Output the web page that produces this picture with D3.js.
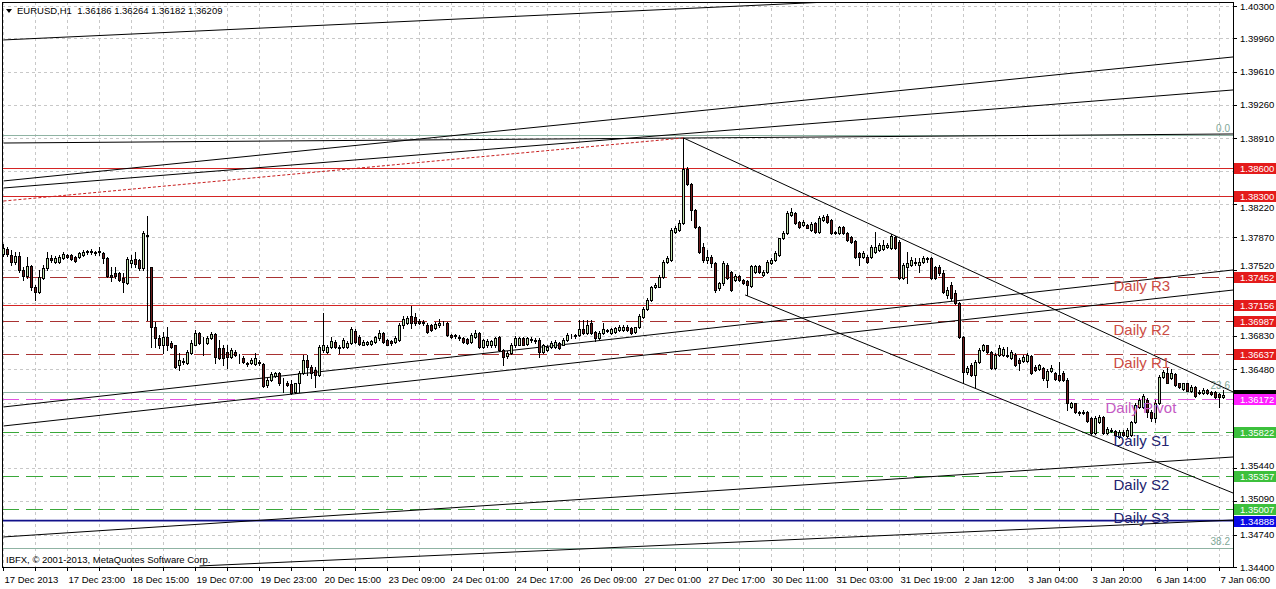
<!DOCTYPE html>
<html><head><meta charset="utf-8">
<script src="https://cdn.jsdelivr.net/npm/d3@7"></script>
<style>
html,body{margin:0;padding:0;background:#fff;}
svg{display:block;font-family:"Liberation Sans",Arial,sans-serif;}
</style></head><body>
<svg id="c" width="1276" height="589"></svg>
<script>
const title = "EURUSD,H1  1.36186 1.36264 1.36182 1.36209";
const copyright = "IBFX, \u00a9 2001-2013, MetaQuotes Software Corp.";
// hourly bars [open, high, low, close]
const ohlc = [
[1.3769,1.3780,1.3767,1.3776],[1.3774,1.3777,1.3767,1.3769],[1.3768,1.3773,1.3758,1.3761],[1.3761,1.3771,1.3759,1.3767],
[1.3767,1.3771,1.3750,1.3752],[1.3752,1.3756,1.3742,1.3746],[1.3746,1.3766,1.3744,1.3757],[1.3757,1.3758,1.3731,1.3734],
[1.3735,1.3737,1.3721,1.3729],[1.3729,1.3752,1.3728,1.3745],[1.3744,1.3758,1.3743,1.3754],[1.3754,1.3771,1.3752,1.3765],
[1.3765,1.3768,1.3761,1.3763],[1.3761,1.3767,1.3760,1.3765],[1.3761,1.3768,1.3760,1.3766],[1.3765,1.3771,1.3764,1.3769],
[1.3768,1.3769,1.3765,1.3766],[1.3768,1.3769,1.3763,1.3764],[1.3766,1.3767,1.3761,1.3762],[1.3766,1.3771,1.3765,1.3770],
[1.3768,1.3773,1.3767,1.3771],[1.3771,1.3773,1.3769,1.3772],[1.3772,1.3774,1.3769,1.3771],[1.3771,1.3772,1.3768,1.3770],
[1.3771,1.3777,1.3768,1.3772],[1.3770,1.3771,1.3760,1.3765],[1.3765,1.3766,1.3745,1.3746],[1.3747,1.3755,1.3741,1.3745],
[1.3749,1.3755,1.3744,1.3746],[1.3749,1.3750,1.3741,1.3742],[1.3744,1.3749,1.3729,1.3740],[1.3739,1.3766,1.3738,1.3764],
[1.3760,1.3768,1.3755,1.3763],[1.3764,1.3771,1.3756,1.3759],[1.3763,1.3764,1.3752,1.3754],[1.3754,1.3793,1.3752,1.3791],
[1.3789,1.3809,1.3700,1.3788],[1.3756,1.3756,1.3671,1.3692],[1.3692,1.3698,1.3671,1.3681],[1.3681,1.3684,1.3670,1.3673],
[1.3674,1.3687,1.3665,1.3682],[1.3682,1.3692,1.3668,1.3674],[1.3676,1.3678,1.3670,1.3671],[1.3673,1.3674,1.3649,1.3650],
[1.3652,1.3665,1.3647,1.3658],[1.3657,1.3660,1.3654,1.3656],[1.3655,1.3668,1.3654,1.3666],[1.3665,1.3679,1.3664,1.3676],
[1.3674,1.3689,1.3673,1.3686],[1.3686,1.3687,1.3675,1.3676],[1.3675,1.3682,1.3663,1.3675],[1.3676,1.3683,1.3675,1.3681],
[1.3681,1.3687,1.3680,1.3685],[1.3685,1.3686,1.3655,1.3661],[1.3670,1.3679,1.3659,1.3660],[1.3670,1.3674,1.3652,1.3660],
[1.3666,1.3673,1.3649,1.3661],[1.3661,1.3670,1.3660,1.3668],[1.3666,1.3668,1.3662,1.3663],[1.3662,1.3664,1.3655,1.3662],
[1.3660,1.3662,1.3655,1.3656],[1.3655,1.3656,1.3651,1.3654],[1.3655,1.3660,1.3654,1.3658],[1.3654,1.3665,1.3652,1.3660],
[1.3656,1.3658,1.3652,1.3655],[1.3654,1.3655,1.3629,1.3630],[1.3631,1.3639,1.3629,1.3637],[1.3637,1.3645,1.3636,1.3643],
[1.3641,1.3645,1.3640,1.3644],[1.3644,1.3645,1.3631,1.3634],[1.3634,1.3639,1.3624,1.3634],[1.3634,1.3636,1.3630,1.3631],
[1.3632,1.3637,1.3622,1.3623],[1.3624,1.3634,1.3623,1.3633],[1.3633,1.3646,1.3624,1.3644],[1.3644,1.3663,1.3643,1.3658],
[1.3658,1.3663,1.3642,1.3650],[1.3650,1.3652,1.3639,1.3644],[1.3647,1.3650,1.3629,1.3642],[1.3642,1.3673,1.3641,1.3671],
[1.3668,1.3707,1.3666,1.3673],[1.3666,1.3674,1.3665,1.3671],[1.3671,1.3682,1.3670,1.3678],[1.3677,1.3679,1.3670,1.3671],
[1.3671,1.3674,1.3665,1.3670],[1.3671,1.3681,1.3670,1.3679],[1.3671,1.3678,1.3670,1.3676],[1.3676,1.3692,1.3675,1.3690],
[1.3688,1.3690,1.3676,1.3677],[1.3682,1.3684,1.3673,1.3675],[1.3674,1.3679,1.3673,1.3677],[1.3675,1.3678,1.3674,1.3677],
[1.3675,1.3679,1.3674,1.3678],[1.3677,1.3683,1.3676,1.3682],[1.3681,1.3689,1.3679,1.3686],[1.3686,1.3687,1.3676,1.3677],
[1.3679,1.3680,1.3673,1.3674],[1.3678,1.3679,1.3674,1.3676],[1.3677,1.3683,1.3676,1.3681],[1.3679,1.3697,1.3678,1.3695],
[1.3695,1.3704,1.3691,1.3701],[1.3697,1.3704,1.3696,1.3702],[1.3704,1.3714,1.3691,1.3697],[1.3703,1.3707,1.3695,1.3697],
[1.3699,1.3701,1.3696,1.3697],[1.3698,1.3700,1.3694,1.3697],[1.3695,1.3697,1.3686,1.3687],[1.3695,1.3696,1.3688,1.3689],
[1.3691,1.3698,1.3690,1.3696],[1.3694,1.3701,1.3692,1.3697],[1.3697,1.3699,1.3695,1.3697],[1.3697,1.3698,1.3683,1.3684],
[1.3684,1.3685,1.3681,1.3682],[1.3684,1.3685,1.3681,1.3683],[1.3682,1.3684,1.3679,1.3681],[1.3681,1.3682,1.3676,1.3677],
[1.3680,1.3681,1.3675,1.3676],[1.3677,1.3686,1.3676,1.3684],[1.3682,1.3689,1.3681,1.3686],[1.3686,1.3687,1.3670,1.3671],
[1.3671,1.3680,1.3670,1.3679],[1.3673,1.3680,1.3671,1.3678],[1.3673,1.3679,1.3671,1.3678],[1.3673,1.3682,1.3671,1.3681],
[1.3682,1.3683,1.3667,1.3668],[1.3668,1.3669,1.3652,1.3661],[1.3662,1.3667,1.3660,1.3665],[1.3665,1.3676,1.3664,1.3674],
[1.3673,1.3683,1.3671,1.3681],[1.3674,1.3682,1.3673,1.3681],[1.3681,1.3682,1.3673,1.3674],[1.3675,1.3682,1.3674,1.3681],
[1.3680,1.3682,1.3677,1.3679],[1.3679,1.3681,1.3676,1.3678],[1.3679,1.3681,1.3661,1.3666],[1.3666,1.3675,1.3665,1.3673],
[1.3668,1.3674,1.3667,1.3671],[1.3671,1.3678,1.3670,1.3676],[1.3671,1.3679,1.3670,1.3677],[1.3676,1.3677,1.3669,1.3670],
[1.3674,1.3681,1.3673,1.3679],[1.3679,1.3686,1.3678,1.3684],[1.3683,1.3685,1.3681,1.3683],[1.3683,1.3685,1.3681,1.3684],
[1.3684,1.3700,1.3683,1.3690],[1.3690,1.3700,1.3685,1.3686],[1.3686,1.3700,1.3685,1.3694],[1.3697,1.3700,1.3685,1.3686],
[1.3687,1.3688,1.3678,1.3681],[1.3681,1.3688,1.3680,1.3686],[1.3686,1.3697,1.3685,1.3690],[1.3688,1.3690,1.3687,1.3689],
[1.3686,1.3691,1.3685,1.3690],[1.3687,1.3692,1.3686,1.3691],[1.3689,1.3694,1.3688,1.3692],[1.3689,1.3694,1.3688,1.3692],
[1.3692,1.3694,1.3688,1.3689],[1.3691,1.3692,1.3685,1.3686],[1.3687,1.3692,1.3686,1.3692],[1.3692,1.3706,1.3691,1.3704],
[1.3703,1.3713,1.3702,1.3711],[1.3711,1.3723,1.3710,1.3721],[1.3721,1.3736,1.3720,1.3734],[1.3734,1.3739,1.3733,1.3737],
[1.3735,1.3747,1.3734,1.3745],[1.3745,1.3763,1.3744,1.3761],[1.3761,1.3767,1.3760,1.3765],[1.3763,1.3797,1.3762,1.3794],
[1.3792,1.3799,1.3791,1.3797],[1.3794,1.3805,1.3793,1.3802],[1.3802,1.3891,1.3801,1.3859],[1.3859,1.3861,1.3842,1.3843],
[1.3843,1.3844,1.3805,1.3815],[1.3815,1.3817,1.3797,1.3798],[1.3798,1.3799,1.3770,1.3771],[1.3777,1.3781,1.3761,1.3763],
[1.3763,1.3773,1.3760,1.3766],[1.3766,1.3768,1.3756,1.3760],[1.3760,1.3761,1.3729,1.3731],[1.3733,1.3740,1.3731,1.3739],
[1.3739,1.3762,1.3737,1.3760],[1.3758,1.3760,1.3743,1.3744],[1.3750,1.3751,1.3730,1.3731],[1.3742,1.3748,1.3741,1.3746],
[1.3746,1.3747,1.3741,1.3742],[1.3742,1.3743,1.3738,1.3739],[1.3741,1.3742,1.3726,1.3737],[1.3736,1.3758,1.3735,1.3757],
[1.3750,1.3758,1.3749,1.3757],[1.3757,1.3758,1.3749,1.3750],[1.3747,1.3752,1.3746,1.3750],[1.3750,1.3763,1.3749,1.3761],
[1.3760,1.3765,1.3759,1.3763],[1.3763,1.3772,1.3762,1.3770],[1.3768,1.3786,1.3767,1.3786],[1.3786,1.3793,1.3785,1.3791],
[1.3791,1.3814,1.3790,1.3812],[1.3810,1.3818,1.3809,1.3813],[1.3812,1.3813,1.3801,1.3802],[1.3803,1.3804,1.3797,1.3798],
[1.3800,1.3805,1.3799,1.3803],[1.3800,1.3801,1.3796,1.3797],[1.3794,1.3803,1.3793,1.3801],[1.3802,1.3803,1.3791,1.3792],
[1.3792,1.3809,1.3791,1.3807],[1.3805,1.3810,1.3804,1.3808],[1.3809,1.3811,1.3802,1.3803],[1.3805,1.3806,1.3790,1.3791],
[1.3792,1.3793,1.3790,1.3791],[1.3791,1.3799,1.3790,1.3798],[1.3798,1.3799,1.3790,1.3791],[1.3791,1.3792,1.3783,1.3784],
[1.3787,1.3788,1.3781,1.3782],[1.3783,1.3784,1.3765,1.3766],[1.3770,1.3771,1.3758,1.3766],[1.3766,1.3772,1.3765,1.3770],
[1.3766,1.3768,1.3760,1.3761],[1.3766,1.3779,1.3765,1.3777],[1.3771,1.3792,1.3770,1.3777],[1.3773,1.3781,1.3772,1.3779],
[1.3774,1.3784,1.3773,1.3779],[1.3777,1.3781,1.3776,1.3779],[1.3776,1.3790,1.3774,1.3788],[1.3787,1.3788,1.3774,1.3776],
[1.3782,1.3784,1.3743,1.3744],[1.3744,1.3760,1.3743,1.3758],[1.3756,1.3771,1.3739,1.3760],[1.3758,1.3766,1.3757,1.3763],
[1.3761,1.3765,1.3758,1.3760],[1.3758,1.3765,1.3750,1.3761],[1.3761,1.3767,1.3760,1.3765],[1.3765,1.3766,1.3761,1.3764],
[1.3765,1.3766,1.3743,1.3744],[1.3756,1.3757,1.3743,1.3744],[1.3756,1.3758,1.3747,1.3749],[1.3749,1.3752,1.3728,1.3729],
[1.3726,1.3734,1.3723,1.3731],[1.3737,1.3740,1.3721,1.3723],[1.3728,1.3731,1.3717,1.3718],[1.3718,1.3719,1.3681,1.3682],
[1.3682,1.3683,1.3634,1.3645],[1.3645,1.3651,1.3643,1.3649],[1.3652,1.3655,1.3641,1.3642],[1.3642,1.3658,1.3628,1.3656],
[1.3656,1.3670,1.3655,1.3668],[1.3668,1.3675,1.3667,1.3673],[1.3673,1.3674,1.3665,1.3666],[1.3666,1.3667,1.3648,1.3649],
[1.3649,1.3665,1.3648,1.3663],[1.3663,1.3673,1.3662,1.3670],[1.3663,1.3671,1.3662,1.3669],[1.3663,1.3671,1.3661,1.3662],
[1.3660,1.3668,1.3659,1.3666],[1.3663,1.3665,1.3651,1.3652],[1.3658,1.3660,1.3647,1.3655],[1.3657,1.3663,1.3656,1.3661],
[1.3657,1.3665,1.3656,1.3663],[1.3662,1.3663,1.3643,1.3644],[1.3650,1.3652,1.3646,1.3647],[1.3648,1.3654,1.3647,1.3652],
[1.3649,1.3650,1.3637,1.3639],[1.3637,1.3648,1.3629,1.3646],[1.3646,1.3652,1.3645,1.3649],[1.3644,1.3645,1.3637,1.3638],
[1.3642,1.3656,1.3636,1.3637],[1.3644,1.3646,1.3636,1.3637],[1.3637,1.3639,1.3605,1.3612],[1.3608,1.3614,1.3607,1.3612],
[1.3612,1.3613,1.3602,1.3603],[1.3603,1.3604,1.3600,1.3602],[1.3603,1.3605,1.3601,1.3602],[1.3603,1.3604,1.3593,1.3594],
[1.3597,1.3598,1.3580,1.3581],[1.3581,1.3599,1.3580,1.3597],[1.3592,1.3600,1.3591,1.3598],[1.3598,1.3599,1.3580,1.3581],
[1.3581,1.3587,1.3580,1.3585],[1.3583,1.3586,1.3582,1.3584],[1.3583,1.3584,1.3578,1.3579],[1.3577,1.3584,1.3576,1.3582],
[1.3582,1.3584,1.3578,1.3579],[1.3578,1.3586,1.3577,1.3584],[1.3579,1.3594,1.3578,1.3592],[1.3592,1.3612,1.3591,1.3610],
[1.3608,1.3618,1.3607,1.3616],[1.3608,1.3622,1.3607,1.3620],[1.3616,1.3618,1.3598,1.3603],[1.3603,1.3605,1.3594,1.3597],
[1.3597,1.3616,1.3592,1.3612],[1.3612,1.3642,1.3611,1.3640],[1.3640,1.3647,1.3639,1.3645],[1.3644,1.3649,1.3633,1.3634],
[1.3639,1.3648,1.3638,1.3644],[1.3643,1.3644,1.3630,1.3631],[1.3633,1.3634,1.3628,1.3629],[1.3627,1.3634,1.3626,1.3633],
[1.3633,1.3634,1.3625,1.3625],[1.3625,1.3631,1.3624,1.3629],[1.3629,1.3630,1.3619,1.3620],[1.3624,1.3626,1.3622,1.3623],
[1.3623,1.3628,1.3622,1.3626],[1.3626,1.3627,1.3622,1.3623],[1.3624,1.3625,1.3621,1.3622],[1.3624,1.3625,1.3618,1.3619],
[1.3622,1.3623,1.3608,1.3619],[1.36186,1.36264,1.36182,1.36209]
];
const xLabels = ["17 Dec 2013","17 Dec 23:00","18 Dec 15:00","19 Dec 07:00","19 Dec 23:00","20 Dec 15:00",
  "23 Dec 09:00","24 Dec 01:00","24 Dec 17:00","26 Dec 09:00","27 Dec 01:00","27 Dec 17:00","30 Dec 11:00",
  "31 Dec 03:00","31 Dec 19:00","2 Jan 12:00","3 Jan 04:00","3 Jan 20:00","6 Jan 14:00","7 Jan 06:00"];
const barsPerLabel = 16;
const barsPerGrid = 8;
const yTicks = [1.40300,1.39960,1.39610,1.39260,1.38910,1.38560,1.38220,1.37870,1.37520,1.37180,
  1.36830,1.36480,1.36130,1.35790,1.35440,1.35090,1.34740,1.34400];
const yDomain = [1.34400, 1.40300];
// horizontal objects
const solidLevels = [1.38600, 1.38300, 1.37156];
const pivotNames = ["Daily R3","Daily R2","Daily R1","Daily Pivot","Daily S1","Daily S2","Daily S3"];
const pivotValues = [1.37452, 1.36987, 1.36637, 1.36172, 1.35822, 1.35357, 1.35007];
const pivotKinds = ["r","r","r","p","s","s","s"];
const pivotTextBar = [277.5, 277.5, 277.5, 275.5, 277.5, 277.5, 277.5];
const blueLevel = 1.34888;
const fibNames = ["0.0","23.6","38.2"];
const fibValues = [1.38940, 1.36245, 1.34598];
const currentPrice = 1.36209;
// trend lines: [bar1, price1, bar2, price2]
const trendLines = [
  [0, 1.39943, 206, 1.40342],
  [0, 1.38460, 307.4, 1.39764],
  [0, 1.38386, 307.4, 1.39417],
  [0, 1.38859, 307.4, 1.38954],
  [170, 1.38912, 307.4, 1.36241],
  [185.4, 1.37261, 307.4, 1.35178],
  [0, 1.36083, 307.4, 1.37524],
  [0, 1.35883, 307.4, 1.37313],
  [0, 1.34716, 307.4, 1.35557],
  [49, 1.34411, 307.4, 1.34894]
];
const dottedLines = [[0, 1.38249, 170, 1.38912]];

// ---------- drawing ----------
const W = 1276, H = 589;
const L = 2, R = 1233, T = 2, B = 567;
const svg = d3.select("#c");
const x = d3.scaleLinear().domain([0, ohlc.length - 1]).range([3.5, 3.5 + 4 * (ohlc.length - 1)]);
const y = d3.scaleLinear().domain(yDomain).range([B, 6]);
const px = v => Math.round(v) + 0.5;

svg.append("rect").attr("width", W).attr("height", H).attr("fill", "#fff");
svg.append("defs").append("clipPath").attr("id", "plot")
  .append("rect").attr("x", L + 1).attr("y", T + 1).attr("width", R - L - 1).attr("height", B - T - 1);
const g = svg.append("g").attr("clip-path", "url(#plot)");

// grid
const gridIdx = d3.range(0, ohlc.length, barsPerGrid);
g.selectAll(".vg").data(gridIdx).join("line")
  .attr("x1", d => px(x(d) - 0.5)).attr("x2", d => px(x(d) - 0.5)).attr("y1", T).attr("y2", B)
  .attr("stroke", "#c8c8c8").attr("stroke-dasharray", "3,3").attr("shape-rendering", "crispEdges");
g.selectAll(".hg").data(yTicks).join("line")
  .attr("x1", L).attr("x2", R).attr("y1", d => px(y(d))).attr("y2", d => px(y(d)))
  .attr("stroke", "#c8c8c8").attr("stroke-dasharray", "3,3").attr("shape-rendering", "crispEdges");

// fib levels
g.selectAll(".fib").data(fibValues).join("line")
  .attr("x1", L).attr("x2", R).attr("y1", d => px(y(d))).attr("y2", d => px(y(d)))
  .attr("stroke", "#8fb3a3").attr("shape-rendering", "crispEdges");
g.selectAll(".fibt").data(fibValues).join("text")
  .attr("x", R - 3).attr("y", d => y(d) - 3).attr("text-anchor", "end")
  .attr("font-size", "10px").attr("fill", "#7fa897").text((d, i) => fibNames[i]);

// solid red levels
g.selectAll(".sl").data(solidLevels).join("line")
  .attr("x1", L).attr("x2", R).attr("y1", d => px(y(d))).attr("y2", d => px(y(d)))
  .attr("stroke", "#d42424").attr("shape-rendering", "crispEdges");

// pivot levels
const pivotLineColor = {r: "#a83232", p: "#e055e0", s: "#3aa83a"};
const pivotTextColor = {r: "#cc4c44", p: "#c45ac4", s: "#23236e"};
g.selectAll(".pl").data(pivotValues).join("line")
  .attr("x1", L).attr("x2", R).attr("y1", d => px(y(d))).attr("y2", d => px(y(d)))
  .attr("stroke", (d, i) => pivotLineColor[pivotKinds[i]])
  .attr("stroke-dasharray", "17,7").attr("shape-rendering", "crispEdges");

// blue level
g.append("line").attr("x1", L).attr("x2", R).attr("y1", y(blueLevel)).attr("y2", y(blueLevel))
  .attr("stroke", "#10108a").attr("stroke-width", 1.6);

// trend lines
g.selectAll(".tl").data(trendLines).join("line")
  .attr("x1", d => x(d[0])).attr("y1", d => y(d[1])).attr("x2", d => x(d[2])).attr("y2", d => y(d[3]))
  .attr("stroke", "#000").attr("stroke-width", 1);
g.selectAll(".dl").data(dottedLines).join("line")
  .attr("x1", d => x(d[0])).attr("y1", d => y(d[1])).attr("x2", d => x(d[2])).attr("y2", d => y(d[3]))
  .attr("stroke", "#c81e1e").attr("stroke-dasharray", "3,2");

// candles
const cg = g.append("g").attr("shape-rendering", "crispEdges");
cg.selectAll(".wick").data(ohlc).join("line")
  .attr("x1", (d, i) => x(i)).attr("x2", (d, i) => x(i))
  .attr("y1", d => Math.round(y(d[1]))).attr("y2", d => Math.round(y(d[2])) + 1)
  .attr("stroke", "#000");
cg.selectAll(".body").data(ohlc).join("rect")
  .attr("x", (d, i) => x(i) - 1).attr("width", 2)
  .attr("y", d => Math.round(y(Math.max(d[0], d[3]))) + 0.5)
  .attr("height", d => Math.max(0, Math.round(y(Math.min(d[0], d[3]))) - Math.round(y(Math.max(d[0], d[3])))))
  .attr("fill", d => d[3] >= d[0] ? "#c2e2ad" : "#6b1c1c")
  .attr("stroke", "#000");

// pivot labels
g.selectAll(".pt").data(pivotValues).join("text")
  .attr("x", (d, i) => x(pivotTextBar[i])).attr("y", d => y(d) + 14)
  .attr("font-size", "15px").attr("fill", (d, i) => pivotTextColor[pivotKinds[i]])
  .text((d, i) => pivotNames[i]);

// copyright
g.append("text").attr("x", 6).attr("y", 563).attr("font-size", "9.5px").attr("fill", "#000").text(copyright);

// frame
svg.append("rect").attr("x", L + 0.5).attr("y", T + 0.5).attr("width", R - L).attr("height", B - T)
  .attr("fill", "none").attr("stroke", "#000").attr("shape-rendering", "crispEdges");

// title
svg.append("path").attr("d", "M6,9 L12,9 L9,13 Z").attr("fill", "#000");
svg.append("text").attr("x", 17).attr("y", 14).attr("font-size", "9.5px").attr("fill", "#000")
  .attr("xml:space", "preserve").style("white-space", "pre").text(title);

// price boxes (drawn over the scale)
const boxes = [];
solidLevels.forEach(v => boxes.push({v, c: "#e41b1b", t: true}));
pivotValues.forEach((v, i) => { if (pivotKinds[i] === "r") boxes.push({v, c: "#e41b1b", t: true}); });
boxes.push({v: currentPrice, c: "#000", t: false});
pivotValues.forEach((v, i) => { if (pivotKinds[i] === "p") boxes.push({v, c: "#ff1fff", t: true}); });
pivotValues.forEach((v, i) => { if (pivotKinds[i] === "s") boxes.push({v, c: "#3cc03c", t: true}); });
boxes.push({v: blueLevel, c: "#0a0ae6", t: true});

// y axis: labels fully under a box are hidden, partly covered ones are nudged clear of it
const tickInfo = yTicks.map(t => {
  const ty = y(t);
  let near = null;
  boxes.forEach(b => { const d = ty - y(b.v); if (near === null || Math.abs(d) < Math.abs(near)) near = d; });
  if (Math.abs(near) < 5) return null;
  let ly = ty;
  if (Math.abs(near) < 11) ly = ty - near + Math.sign(near) * 11;
  return {t, ly};
}).filter(d => d);
svg.selectAll(".yt").data(yTicks).join("line")
  .attr("x1", R).attr("x2", R + 4).attr("y1", d => px(y(d))).attr("y2", d => px(y(d)))
  .attr("stroke", "#000").attr("shape-rendering", "crispEdges");
svg.selectAll(".yl").data(tickInfo).join("text")
  .attr("x", R + 7).attr("y", d => d.ly + 3.5).attr("font-size", "9.5px").attr("fill", "#000")
  .text(d => d.t.toFixed(5));

// x axis
svg.selectAll(".xt").data(gridIdx).join("line")
  .attr("x1", d => px(x(d) - 0.5)).attr("x2", d => px(x(d) - 0.5)).attr("y1", B).attr("y2", B + 4)
  .attr("stroke", "#000").attr("shape-rendering", "crispEdges");
svg.selectAll(".xl").data(xLabels).join("text")
  .attr("x", (d, i) => x(i * barsPerLabel) + 1).attr("y", 583).attr("font-size", "9.5px").attr("fill", "#000")
  .text(d => d);

const bg = svg.selectAll(".box").data(boxes).join("g");
bg.append("rect").attr("x", R + 1).attr("y", d => Math.round(y(d.v)) - 5).attr("width", W - R - 1).attr("height", 11)
  .attr("fill", d => d.c);
bg.filter(d => d.t).append("text").attr("x", R + 7).attr("y", d => y(d.v) + 4).attr("font-size", "9.5px").attr("fill", "#fff")
  .text(d => d.v.toFixed(5));
</script>
</body></html>
